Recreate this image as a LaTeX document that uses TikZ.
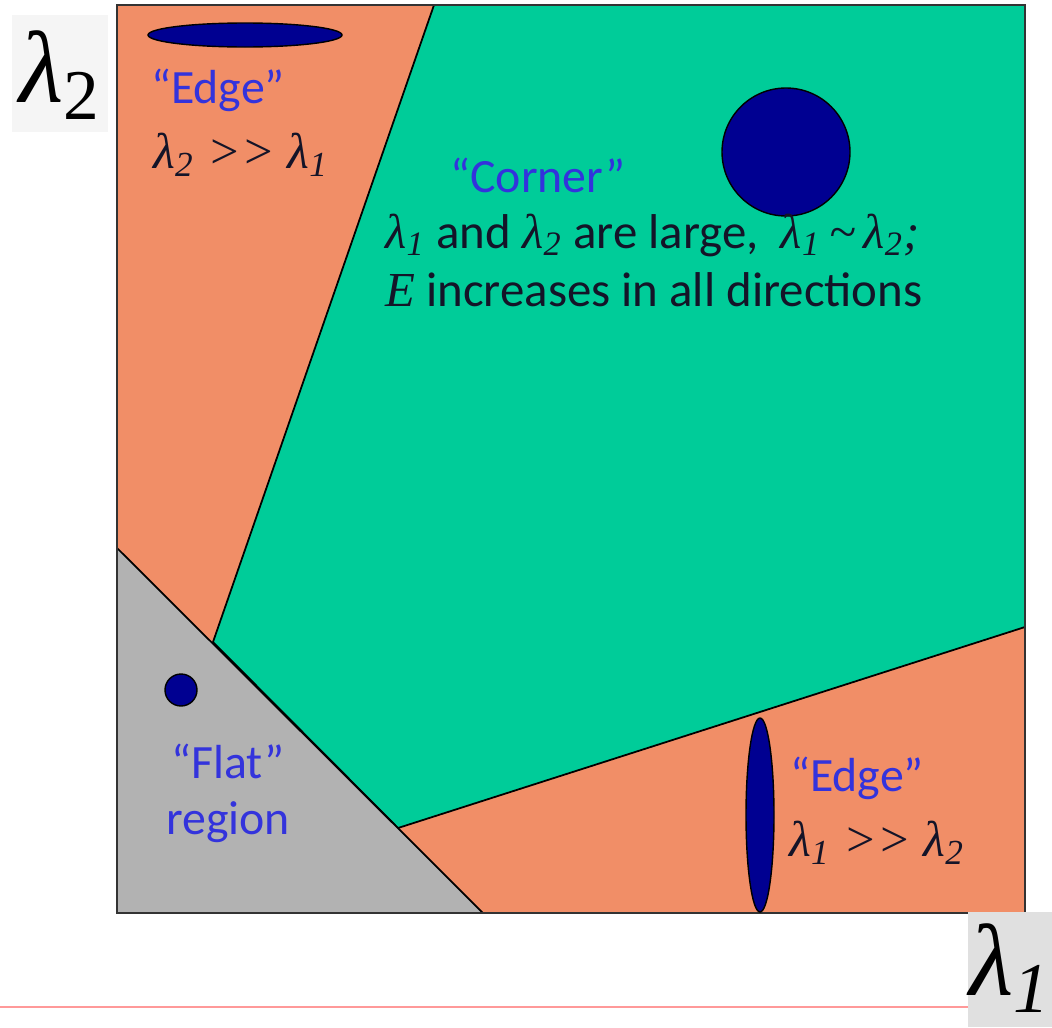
\documentclass[tikz,border=0pt]{standalone}
\usepackage{fontspec}
\setmainfont{Carlito}
\newfontfamily\tnr{Liberation Serif}
\usetikzlibrary{calc}

\definecolor{edgeorange}{RGB}{241,142,103}
\definecolor{cornergreen}{RGB}{0,204,153}
\definecolor{flatgray}{RGB}{178,178,178}
\definecolor{blobblue}{RGB}{0,0,145}
\definecolor{labelblue}{RGB}{51,51,220}
\definecolor{textdark}{RGB}{20,20,40}

\tikzset{
  region/.style={draw=black, line width=0.5pt},
  blob/.style={fill=blobblue, draw=black, line width=0.4pt},
  quote/.style={text=labelblue, font=\fontsize{13.6}{16}\selectfont},
  relation/.style={text=textdark, font=\tnr\itshape\fontsize{14.3}{16}\selectfont},
  sentence/.style={text=textdark, font=\fontsize{13.9}{16}\selectfont, anchor=west},
  axislabel/.style={font=\tnr\itshape\fontsize{29}{32}\selectfont, inner sep=0pt}
}

\begin{document}
\begin{tikzpicture}[x=0.01cm,y=-0.01cm]
\useasboundingbox (0,0) rectangle (1052,1027);

% Square corners
\coordinate (TL) at (117,5);
\coordinate (TR) at (1025,5);
\coordinate (BR) at (1025,913);
\coordinate (BL) at (117,913);

% Edge background
\fill[edgeorange] (TL) rectangle (BR);

% Corner region
\filldraw[fill=cornergreen, region] (434,5) -- (TR) -- (1025,627) -- (398,828) -- (213,642) -- cycle;

% Flat region
\filldraw[fill=flatgray, region] (117,548) -- (483,913) -- (BL) -- cycle;

% Frame
\draw[line width=0.7pt, black!80] (TL) rectangle (BR);

% Blobs
\draw[blob] (245,35) ellipse (97 and 12);
\draw[blob] (786,152) circle (64);
\draw[blob] (181,690) circle (16);
\draw[blob] (760,815) ellipse (14 and 97);

% Labels
\node[quote] (edgetop) at (218,90) {“Edge”};
\node[relation] (reltop) at (241,155) {λ\textsubscript{2} >> λ\textsubscript{1}};
\node[quote] (corner) at (538,175) {“Corner”};
\node[sentence] (large) at (373,235)
  {{\tnr\itshape λ\textsubscript{1}} and {\tnr\itshape λ\textsubscript{2}} are large,\ \ {\tnr\itshape λ\textsubscript{1}\,\textasciitilde\,λ\textsubscript{2};}};
\node[sentence] (incr) at (373,290)
  {{\tnr\itshape E} increases in all directions};
\node[quote, align=center] (flat) at (228,793) {“Flat”\\region};
\node[quote] (edgebot) at (857,778) {“Edge”};
\node[relation] (relbot) at (877,843) {λ\textsubscript{1} >> λ\textsubscript{2}};

% Axis labels
\fill[black!4] (12,15) rectangle (108,132);
\node[axislabel] (lamtwo) at (60,75) {λ\textsubscript{\upshape 2}};
\fill[black!12] (968,912) rectangle (1052,1027);
\node[axislabel] (lamone) at (1010,968) {λ\textsubscript{1}};

% Bottom rule
\draw[red!40, line width=0.6pt] (0,1007) -- (968,1007);

\end{tikzpicture}
\end{document}
